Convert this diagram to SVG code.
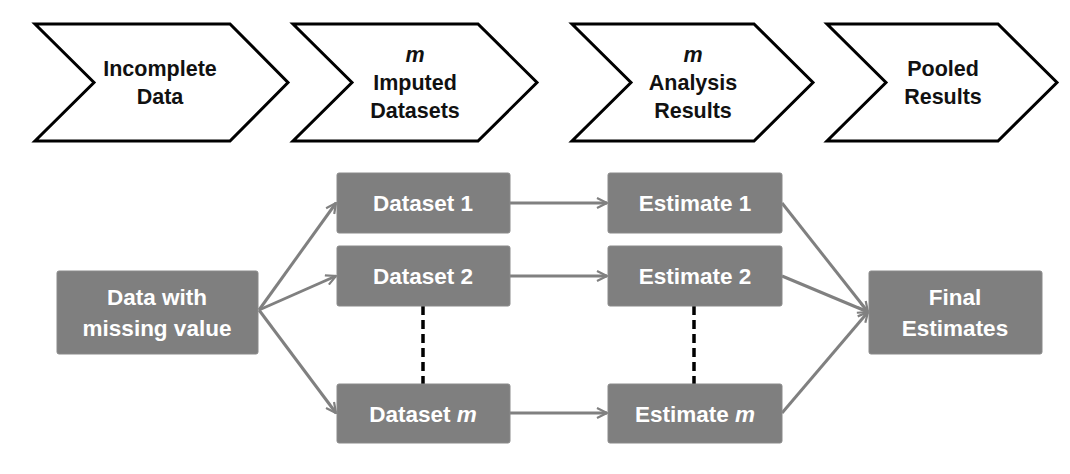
<svg xmlns="http://www.w3.org/2000/svg" width="1070" height="474" viewBox="0 0 1070 474">
<defs>
<style>
.chev{fill:#fff;stroke:#000;stroke-width:3;stroke-linejoin:miter}
.ht{font-family:"Liberation Sans",Arial,sans-serif;font-weight:bold;font-size:21.5px;fill:#111;text-anchor:middle}
.box{fill:#7f7f7f;stroke:#8a8a8a;stroke-width:1}
.bt{font-family:"Liberation Sans",Arial,sans-serif;font-weight:bold;font-size:22.5px;fill:#fff;text-anchor:middle}
.con{stroke:#808080;stroke-width:3;fill:none;marker-end:url(#arr)}
.dash{stroke:#000;stroke-width:3.5;stroke-dasharray:9,5;fill:none}
</style>
<marker id="arr" viewBox="0 0 12 12" refX="11" refY="6" markerWidth="12" markerHeight="12" markerUnits="userSpaceOnUse" orient="auto">
<path d="M1,1 L11,6 L1,11" fill="none" stroke="#808080" stroke-width="2.2"/>
</marker>
</defs>
<rect width="1070" height="474" fill="#fff"/>
<g id="header1"><polygon class="chev" points="35,24 230,24 288,82.5 230,141 35,141 94,82.5"/>
<text class="ht" x="160" y="76">Incomplete</text><text class="ht" x="160" y="104">Data</text></g>
<g id="header2"><polygon class="chev" points="293,24 478,24 537,82.5 478,141 293,141 352,82.5"/>
<text class="ht" x="415" y="62" font-style="italic">m</text><text class="ht" x="415" y="90">Imputed</text><text class="ht" x="415" y="118">Datasets</text></g>
<g id="header3"><polygon class="chev" points="572,24 754,24 813,82.5 754,141 572,141 631,82.5"/>
<text class="ht" x="693" y="62" font-style="italic">m</text><text class="ht" x="693" y="90">Analysis</text><text class="ht" x="693" y="118">Results</text></g>
<g id="header4"><polygon class="chev" points="827,24 998,24 1057,82.5 998,141 827,141 886,82.5"/>
<text class="ht" x="943" y="76">Pooled</text><text class="ht" x="943" y="104">Results</text></g>

<g id="connectors">
<line class="con" x1="259" y1="310" x2="336" y2="203"/>
<line class="con" x1="259" y1="310" x2="336" y2="276"/>
<line class="con" x1="259" y1="310" x2="336" y2="413"/>
<line class="con" x1="510" y1="203" x2="607" y2="203"/>
<line class="con" x1="510" y1="276" x2="607" y2="276"/>
<line class="con" x1="510" y1="413" x2="607" y2="413"/>
<line class="con" x1="782" y1="203" x2="868" y2="312"/>
<line class="con" x1="782" y1="276" x2="868" y2="312"/>
<line class="con" x1="782" y1="413" x2="868" y2="312"/>
<line class="dash" x1="423" y1="306" x2="423" y2="384"/>
<line class="dash" x1="694" y1="306" x2="694" y2="384"/>
</g>

<g id="data"><rect class="box" x="57" y="271" width="201" height="83" rx="2"/>
<text class="bt" x="157" y="305">Data with</text><text class="bt" x="157" y="336">missing value</text></g>
<g id="dataset1"><rect class="box" x="337" y="173" width="173" height="60" rx="2"/><text class="bt" x="423" y="211">Dataset 1</text></g>
<g id="dataset2"><rect class="box" x="337" y="246" width="173" height="60" rx="2"/><text class="bt" x="423" y="284">Dataset 2</text></g>
<g id="datasetm"><rect class="box" x="337" y="384" width="173" height="59" rx="2"/><text class="bt" x="423" y="422">Dataset <tspan font-style="italic">m</tspan></text></g>
<g id="estimate1"><rect class="box" x="608" y="173" width="174" height="60" rx="2"/><text class="bt" x="695" y="211">Estimate 1</text></g>
<g id="estimate2"><rect class="box" x="608" y="246" width="174" height="60" rx="2"/><text class="bt" x="695" y="284">Estimate 2</text></g>
<g id="estimatem"><rect class="box" x="608" y="384" width="174" height="59" rx="2"/><text class="bt" x="695" y="422">Estimate <tspan font-style="italic">m</tspan></text></g>
<g id="final"><rect class="box" x="869" y="271" width="173" height="83" rx="2"/>
<text class="bt" x="955" y="305">Final</text><text class="bt" x="955" y="336">Estimates</text></g>
</svg>
